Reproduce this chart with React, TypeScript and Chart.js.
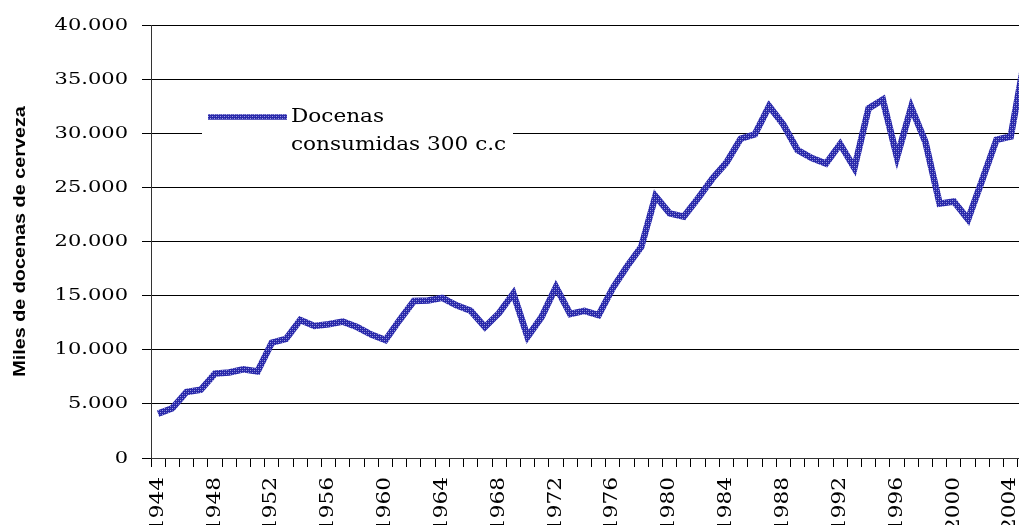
import React, { useEffect, useRef } from 'react';
import { Chart, registerables } from 'chart.js';

Chart.register(...registerables);

// ---- data ----
const YEARS: string[] = [
  '1944', '1945', '1946', '1947', '1948', '1949', '1950', '1951', '1952', '1953',
  '1954', '1955', '1956', '1957', '1958', '1959', '1960', '1961', '1962', '1963',
  '1964', '1965', '1966', '1967', '1968', '1969', '1970', '1971', '1972', '1973',
  '1974', '1975', '1976', '1977', '1978', '1979', '1980', '1981', '1982', '1983',
  '1984', '1985', '1986', '1987', '1988', '1989', '1990', '1991', '1992', '1993',
  '1994', '1995', '1996', '1997', '1998', '1999', '2000', '2001', '2002', '2003',
  '2004', '2005',
];

const DOCENAS: number[] = [
  4100, 4600, 6100, 6300, 7800, 7900, 8200, 8000, 10650, 11000,
  12750, 12200, 12350, 12600, 12100, 11400, 10900, 12750, 14500, 14550,
  14800, 14100, 13600, 12100, 13400, 15200, 11200, 13050, 15800, 13300,
  13600, 13200, 15700, 17700, 19500, 24200, 22600, 22300, 24000, 25800,
  27300, 29500, 29900, 32500, 30800, 28450, 27700, 27200, 29000, 26800,
  32300, 33100, 27800, 32400, 29200, 23500, 23700, 22050, 25700, 29400,
  29700, 37000,
];

const Y_MIN = 0;
const Y_MAX = 40000;
const Y_STEP = 5000;
const X_LABEL_EVERY = 4;

const SERIES_LABEL_LINES: string[] = ['Docenas', 'consumidas 300 c.c'];
const Y_TITLE = 'Miles de docenas de cerveza';

// ---- styling ----
const SERIF = '"DejaVu Serif", serif';
const SANS = '"Liberation Sans", Arial, sans-serif';
const TEXT_STRETCH = 1.2;

function formatThousands(v: number): string {
  return String(Math.round(v)).replace(/\B(?=(\d{3})+(?!\d))/g, '.');
}

function makePattern(ctx: CanvasRenderingContext2D): CanvasPattern | string {
  const c = document.createElement('canvas');
  c.width = 4;
  c.height = 4;
  const g = c.getContext('2d');
  if (!g) return '#2c2ca8';
  g.fillStyle = '#2828aa';
  g.fillRect(0, 0, 4, 4);
  g.fillStyle = '#a0a0e0';
  g.fillRect(0, 0, 1, 1);
  g.fillRect(2, 2, 1, 1);
  g.fillStyle = '#6060c4';
  g.fillRect(2, 0, 1, 1);
  g.fillRect(0, 2, 1, 1);
  return ctx.createPattern(c, 'repeat') || '#2c2ca8';
}

export default function App() {
  const canvasRef = useRef<HTMLCanvasElement | null>(null);

  useEffect(() => {
    const canvas = canvasRef.current;
    if (!canvas) return;
    const ctx2d = canvas.getContext('2d');
    if (!ctx2d) return;
    const pattern = makePattern(ctx2d);

    const textPlugin = {
      id: 'textStretchAndLegend',
      beforeDraw(chart: any) {
        const ctx: any = chart.ctx;
        if (ctx.__origFillText) return;
        const orig = ctx.fillText;
        ctx.__origFillText = orig;
        ctx.fillText = function (text: string, x: number, y: number) {
          this.save();
          this.translate(x, y);
          this.scale(TEXT_STRETCH, 1);
          orig.call(this, text, 0, 0);
          this.restore();
        };
      },
      afterDraw(chart: any) {
        const ctx: any = chart.ctx;
        // legend box
        ctx.save();
        ctx.fillStyle = '#ffffff';
        ctx.fillRect(202, 98, 311, 66);
        ctx.strokeStyle = pattern;
        ctx.lineWidth = 5.5;
        ctx.lineCap = 'butt';
        ctx.beginPath();
        ctx.moveTo(208, 117);
        ctx.lineTo(287, 117);
        ctx.stroke();
        ctx.fillStyle = '#000000';
        ctx.font = `18px ${SERIF}`;
        ctx.textAlign = 'left';
        ctx.textBaseline = 'alphabetic';
        ctx.fillText(SERIES_LABEL_LINES[0], 291, 122);
        ctx.fillText(SERIES_LABEL_LINES[1], 291, 150);
        ctx.restore();
        if (ctx.__origFillText) {
          delete ctx.fillText;
          delete ctx.__origFillText;
        }
      },
    };

    const chart = new Chart(canvas, {
      type: 'line',
      data: {
        labels: YEARS,
        datasets: [
          {
            label: SERIES_LABEL_LINES.join(' '),
            data: DOCENAS,
            borderColor: pattern as any,
            backgroundColor: pattern as any,
            borderWidth: 6.5,
            borderJoinStyle: 'miter',
            borderCapStyle: 'butt',
            pointRadius: 0,
            pointHoverRadius: 0,
            tension: 0,
            fill: false,
          },
        ],
      },
      options: {
        animation: false,
        responsive: false,
        maintainAspectRatio: false,
        devicePixelRatio: 1,
        events: [],
        layout: { padding: { top: 25, left: 0, right: 0, bottom: 0 } },
        plugins: {
          legend: { display: false },
          title: { display: false },
          tooltip: { enabled: false },
        },
        scales: {
          x: {
            type: 'category',
            offset: true,
            grid: {
              display: true,
              offset: true,
              drawOnChartArea: false,
              drawTicks: true,
              tickLength: 9,
              color: '#000000',
              lineWidth: 1,
            },
            border: { display: true, color: '#333333', width: 1 },
            ticks: {
              autoSkip: false,
              minRotation: 90,
              maxRotation: 90,
              padding: 10,
              color: '#000000',
              font: { family: SERIF, size: 18 },
              callback: (_v: any, idx: number) => (idx % X_LABEL_EVERY === 0 ? YEARS[idx] : ''),
            },
            afterFit: (s: any) => {
              s.height = 67;
              s.paddingLeft = 0;
              s.paddingRight = 0;
            },
          },
          y: {
            min: Y_MIN,
            max: Y_MAX,
            grid: {
              display: true,
              drawOnChartArea: true,
              drawTicks: true,
              tickLength: 9,
              color: '#000000',
              lineWidth: 1,
            },
            border: { display: true, color: '#333333', width: 1 },
            ticks: {
              stepSize: Y_STEP,
              padding: 14,
              color: '#000000',
              font: { family: SERIF, size: 17.5 },
              callback: (v: any) => formatThousands(Number(v)),
            },
            title: {
              display: true,
              text: Y_TITLE,
              color: '#000000',
              font: { family: SANS, size: 16.5, weight: 'bold' },
              padding: { top: 11, bottom: 0 },
            },
            afterFit: (s: any) => {
              s.width = 151;
            },
          },
        },
      },
      plugins: [textPlugin as any],
    });

    return () => {
      chart.destroy();
    };
  }, []);

  return (
    <div
      style={{
        position: 'fixed',
        left: 0,
        top: 0,
        width: 1019,
        height: 525,
        overflow: 'hidden',
        background: '#ffffff',
      }}
    >
      <canvas
        ref={canvasRef}
        width={1032}
        height={525}
        style={{ display: 'block', width: 1032, height: 525 }}
      />
    </div>
  );
}
